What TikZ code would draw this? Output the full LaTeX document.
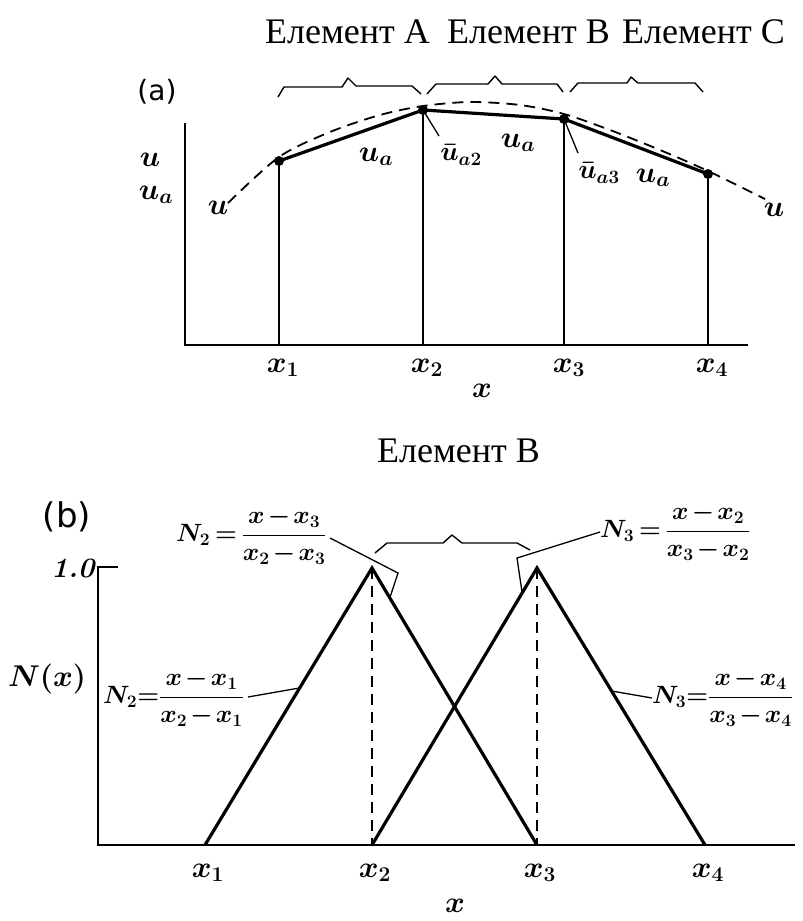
\documentclass[tikz,border=0pt]{standalone}
\usepackage{fix-cm}
\usepackage{fontspec}
\usetikzlibrary{calc}
\newfontfamily\cyr{Liberation Serif}
\newfontfamily\sansf{DejaVu Sans}
\newcommand{\mf}{\fontsize{30}{36}\selectfont\boldmath}
\newcommand{\smf}{\fontsize{27}{32}\selectfont\boldmath}
\newcommand{\ff}{\fontsize{25}{30}\selectfont\boldmath\medmuskip=2mu\thickmuskip=3mu}
\tikzset{
 ax/.style={line width=1.8pt},
 thk/.style={line width=3.2pt, line join=miter},
 dsh/.style={line width=1.8pt, dash pattern=on 11pt off 7pt},
 lbl/.style={font=\mf, inner sep=0pt},
 slbl/.style={font=\smf, inner sep=0pt},
 frm/.style={font=\ff, inner sep=0pt, anchor=west},
 cyrlbl/.style={font=\cyr\fontsize{36}{40}\selectfont, inner sep=0pt, anchor=base west},
 brc/.style={line width=1.4pt, line join=round},
 lead/.style={line width=1.3pt},
 dot/.style={circle, fill, inner sep=0pt, minimum size=10pt}
}
\begin{document}
\begin{tikzpicture}[x=1pt,y=-1pt]
\useasboundingbox (0,0) rectangle (803,921);

% titles
\node[cyrlbl] (tA) at (265,43) {Елемент A};
\node[cyrlbl] (tB) at (447,43) {Елемент B};
\node[cyrlbl] (tC) at (622,43) {Елемент C};
\node[cyrlbl] (tBb) at (377,462) {Елемент B};

% ---------- panel (a) ----------
\node[font=\sansf\fontsize{28}{32}\selectfont, inner sep=0pt] (pa) at (157,92) {(a)};
\coordinate (ya) at (185,123);
\coordinate (oa) at (185,345);
\coordinate (xa) at (748,345);
\draw[ax] (ya) -- (oa) -- (xa);

\node[dot] (p1) at (279,161) {};
\node[dot] (p2) at (423,110) {};
\node[dot] (p3) at (564,119) {};
\node[dot] (p4) at (708,174) {};
\coordinate (b1) at (279,345);
\coordinate (b2) at (423,345);
\coordinate (b3) at (564,345);
\coordinate (b4) at (708,345);
\draw[ax] (p1.center) -- (b1);
\draw[ax] (p2.center) -- (b2);
\draw[ax] (p3.center) -- (b3);
\draw[ax] (p4.center) -- (b4);

\draw[dsh] plot[smooth] coordinates {(228,203) (279,157) (330,132) (380,115) (423,106) (470,102) (520,105) (564,114) (610,130) (660,150) (708,171) (765,199)};
\draw[thk] (p1.center) -- (p2.center) -- (p3.center) -- (p4.center);

\node[lbl] (ul) at (218,208) {$u$};
\node[lbl] (ur) at (774,210) {$u$};
\node[lbl] (uax) at (150,160) {$u$};
\node[lbl] (uaax) at (156,195) {$u_a$};
\node[lbl] (ua1) at (376,157) {$u_a$};
\node[lbl] (ua2) at (518,143) {$u_a$};
\node[lbl] (ua3) at (653,178) {$u_a$};
\node[slbl] (ub2) at (461,155) {$\bar u_{a2}$};
\node[slbl] (ub3) at (599,173) {$\bar u_{a3}$};
\coordinate (l2) at (439,136);
\coordinate (l3) at (578,153);
\draw[lead] (p2.center) -- (l2);
\draw[lead] (p3.center) -- (l3);

\node[lbl] (x1a) at (283,368) {$x_1$};
\node[lbl] (x2a) at (427,368) {$x_2$};
\node[lbl] (x3a) at (569,368) {$x_3$};
\node[lbl] (x4a) at (712,368) {$x_4$};
\node[lbl] (xla) at (482,391) {$x$};

\draw[brc] (278,97) -- (284,87) -- (342,87) -- (348,78) -- (356,86) -- (412,86) -- (421,94);
\draw[brc] (427,94) -- (436,84) -- (488,84) -- (495,76) -- (502,84) -- (557,84) -- (563,92);
\draw[brc] (570,92) -- (578,83) -- (627,83) -- (631,77) -- (638,83) -- (695,83) -- (703,92);

% ---------- panel (b) ----------
\node[font=\sansf\fontsize{34}{38}\selectfont, inner sep=0pt] (pb) at (67,517) {(b)};
\coordinate (yb) at (98,567);
\coordinate (tk) at (118,567);
\coordinate (ob) at (98,845);
\coordinate (xb) at (795,845);
\draw[ax] (tk) -- (yb) -- (ob) -- (xb);
\node[font=\bfseries\itshape\fontsize{28}{32}\selectfont, inner sep=0pt] (one) at (73,568) {1.0};
\node[lbl] (Nx) at (47,679) {$N(x)$};

\coordinate (q1) at (205,845);
\coordinate (q2) at (372,845);
\coordinate (q3) at (537,845);
\coordinate (q4) at (705,845);
\coordinate (k2) at (372,568);
\coordinate (k3) at (537,568);
\draw[dsh] (k2) -- (q2);
\draw[dsh] (k3) -- (q3);
\draw[thk] (q1) -- (k2) -- (q3);
\draw[thk] (q2) -- (k3) -- (q4);

\node[frm] (f1) at (103,698) {$\displaystyle N_2\!=\!\frac{x-x_1}{x_2-x_1}$};
\node[frm] (f2) at (176,536) {$\displaystyle N_2=\frac{x-x_3}{x_2-x_3}$};
\node[frm] (f3) at (600,532) {$\displaystyle N_3=\frac{x-x_2}{x_3-x_2}$};
\node[frm] (f4) at (652,698) {$\displaystyle N_3\!=\!\frac{x-x_4}{x_3-x_4}$};

\draw[lead] (248,697) -- ($(q1)!0.567!(k2)$);
\draw[lead] (330,538) -- (398,573) -- ($(k2)!0.108!(q3)$);
\draw[lead] (f3.west) -- (517,558) -- ($(k3)!0.09!(q2)$);
\draw[lead] (f4.west) -- ($(k3)!0.444!(q4)$);

\draw[brc] (375,553) -- (387,543) -- (443,543) -- (452,535) -- (462,543) -- (517,543) -- (530,550);

\node[lbl] (x1b) at (208,873) {$x_1$};
\node[lbl] (x2b) at (375,873) {$x_2$};
\node[lbl] (x3b) at (540,873) {$x_3$};
\node[lbl] (x4b) at (708,873) {$x_4$};
\node[lbl] (xbb) at (455,906) {$x$};
\end{tikzpicture}
\end{document}
